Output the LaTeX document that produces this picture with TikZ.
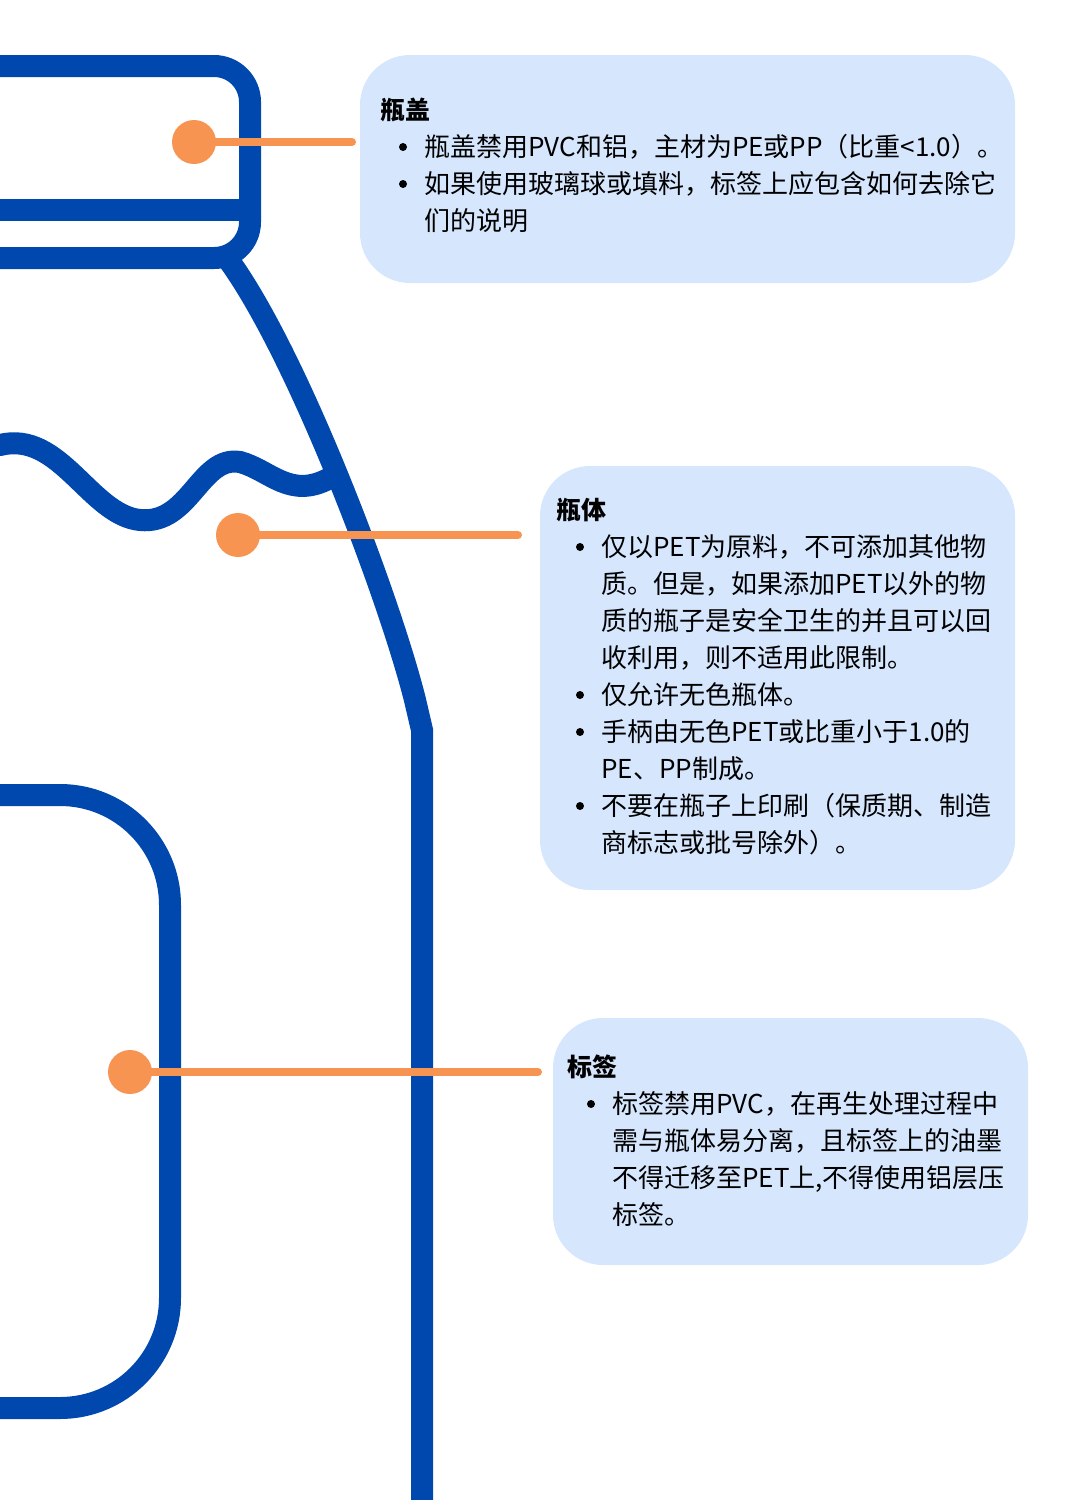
\documentclass[tikz,border=0pt]{standalone}
\usepackage{fontspec}
\setmainfont{Noto Sans CJK SC}
\begin{document}
\begin{tikzpicture}[x=0.5pt,y=-0.5pt,
  bl/.style={line width=11pt,draw={rgb,255:red,0;green,72;blue,174}},
  ol/.style={draw={rgb,255:red,247;green,148;blue,82},line width=4pt},
  dot/.style={circle,fill={rgb,255:red,247;green,148;blue,82},minimum size=22pt,inner sep=0pt},
  bu/.style={circle,fill=black,minimum size=4pt,inner sep=0pt},
  box/.style={fill={rgb,255:red,214;green,230;blue,253},rounded corners=25pt},
  tx/.style={anchor=base west,inner sep=0pt,font=\fontsize{13pt}{15pt}\selectfont},
  hd/.style={tx,font=\fontsize{12.5pt}{15pt}\selectfont\bfseries}]
\useasboundingbox (0,0) rectangle (1080,1500);
% boxes
\fill[box] (360,55) rectangle (1015,283);
\fill[box] (540,466) rectangle (1015,890);
\fill[box] (553,1018) rectangle (1028,1265);
% bottle
\draw[bl,rounded corners=18pt] (0,66) -- (250,66) -- (250,258) -- (0,258);
\draw[bl] (0,210) -- (250,210);
\draw[bl] (230,262) .. controls (300,360) and (390,600) .. (415,700) -- (422,730) -- (422,1500);
\draw[bl,line cap=round] (0,445) .. controls (60,430) and (90,515) .. (140,520) .. controls (190,525) and (200,455) .. (240,462) .. controls (270,470) and (290,500) .. (330,478);
\draw[bl,rounded corners=55pt] (0,795) -- (170,795) -- (170,1408) -- (0,1408);
% callouts
\node[dot] (d1) at (194,142) {};
\node[dot] (d2) at (238,535) {};
\node[dot] (d3) at (130,1072) {};
\coordinate (e1) at (352,142);
\coordinate (e2) at (518,535);
\coordinate (e3) at (538,1072);
\draw[ol,line cap=round] (d1.center) -- (e1);
\draw[ol,line cap=round] (d2.center) -- (e2);
\draw[ol,line cap=round] (d3.center) -- (e3);
% text box 1
\node[hd] (t1) at (380,119) {瓶盖};
\node[bu] (b11) at (403,147) {};
\node[tx] (l11) at (424,156) {瓶盖禁用PVC和铝，主材为PE或PP（比重<1.0）。};
\node[bu] (b12) at (403,184) {};
\node[tx] (l12) at (424,193) {如果使用玻璃球或填料，标签上应包含如何去除它};
\node[tx] (l13) at (424,230) {们的说明};
% text box 2
\node[hd] (t2) at (556,519) {瓶体};
\node[bu] (b21) at (580,547) {};
\node[tx] (l21) at (601,556) {仅以PET为原料，不可添加其他物};
\node[tx] (l22) at (601,593) {质。但是，如果添加PET以外的物};
\node[tx] (l23) at (601,630) {质的瓶子是安全卫生的并且可以回};
\node[tx] (l24) at (601,667) {收利用，则不适用此限制。};
\node[bu] (b22) at (580,695) {};
\node[tx] (l25) at (601,704) {仅允许无色瓶体。};
\node[bu] (b23) at (580,732) {};
\node[tx] (l26) at (601,741) {手柄由无色PET或比重小于1.0的};
\node[tx] (l27) at (601,778) {PE、PP制成。};
\node[bu] (b24) at (580,806) {};
\node[tx] (l28) at (601,815) {不要在瓶子上印刷（保质期、制造};
\node[tx] (l29) at (601,852) {商标志或批号除外）。};
% text box 3
\node[hd] (t3) at (567,1076) {标签};
\node[bu] (b31) at (591,1104) {};
\node[tx] (l31) at (612,1113) {标签禁用PVC，在再生处理过程中};
\node[tx] (l32) at (612,1150) {需与瓶体易分离，且标签上的油墨};
\node[tx] (l33) at (612,1187) {不得迁移至PET上,不得使用铝层压};
\node[tx] (l34) at (612,1224) {标签。};
\end{tikzpicture}
\end{document}
